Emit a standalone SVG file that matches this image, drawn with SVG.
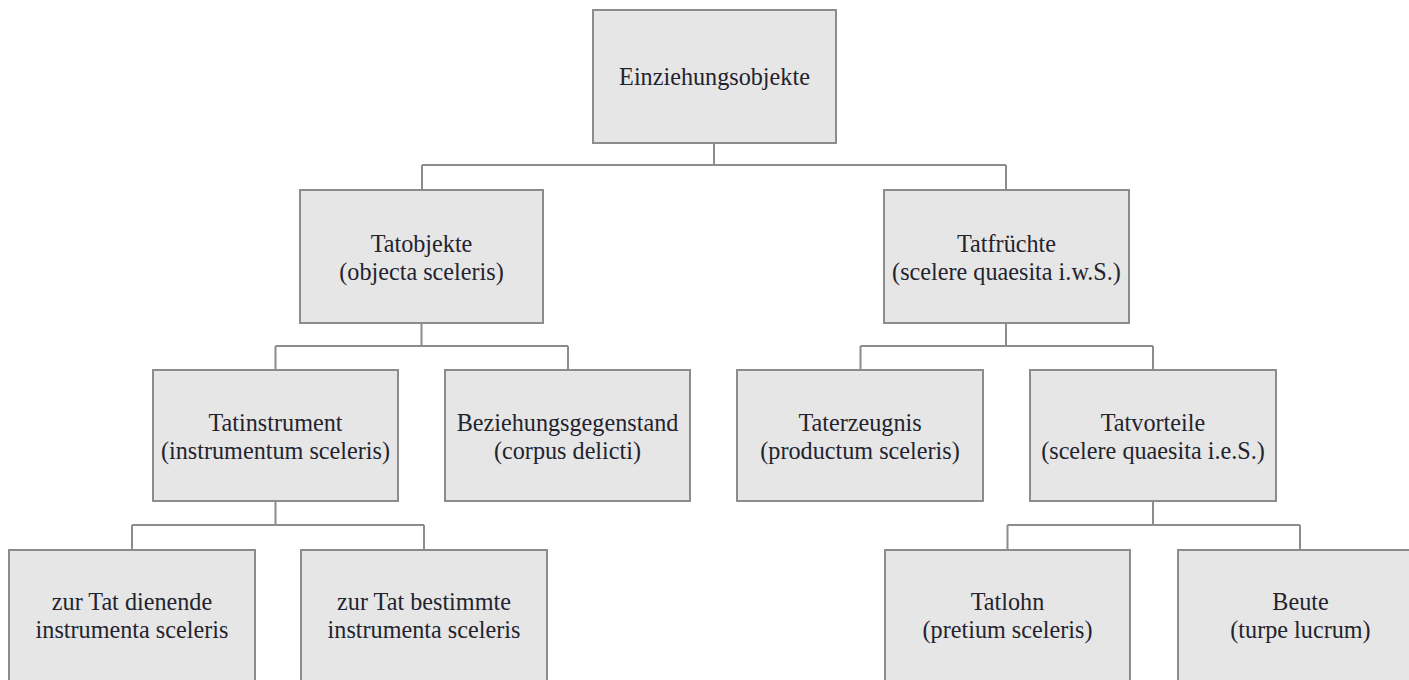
<svg xmlns="http://www.w3.org/2000/svg" width="1409" height="680" viewBox="0 0 1409 680">
<style>
.box{fill:#e6e6e6;stroke:#8c8c8c;stroke-width:2}
.lbl{font-family:'Liberation Serif','DejaVu Serif',serif;font-size:24.2px;fill:#23232e;text-anchor:middle}
.conn{fill:none;stroke:#8c8c8c;stroke-width:2}
</style>
<rect width="1409" height="680" fill="#ffffff"/>
<g id="connectors">
<path class="conn" d="M714 143V165M422 165H1006M422 165V190M1006 165V190"/>
<path class="conn" d="M421.5 323V346M275.5 346H568M275.5 346V370M568 346V370"/>
<path class="conn" d="M1006 323V346M860.5 346H1153M860.5 346V370M1153 346V370"/>
<path class="conn" d="M275.5 501V525M132 525H424M132 525V550M424 525V550"/>
<path class="conn" d="M1153 501V525M1007.5 525H1300M1007.5 525V550M1300 525V550"/>
</g>
<g id="n-einziehungsobjekte">
<rect class="box" x="593" y="10" width="243" height="133"/>
<text class="lbl" x="714.5" y="85">Einziehungsobjekte</text>
</g>
<g id="n-tatobjekte">
<rect class="box" x="300" y="190" width="243" height="133"/>
<text class="lbl" x="421.5" y="252">Tatobjekte</text>
<text class="lbl" x="421.5" y="280">(objecta sceleris)</text>
</g>
<g id="n-tatfruechte">
<rect class="box" x="884" y="190" width="245" height="133"/>
<text class="lbl" x="1006.5" y="252">Tatfrüchte</text>
<text class="lbl" x="1006.5" y="280">(scelere quaesita i.w.S.)</text>
</g>
<g id="n-tatinstrument">
<rect class="box" x="153" y="370" width="245" height="131"/>
<text class="lbl" x="275.5" y="431">Tatinstrument</text>
<text class="lbl" x="275.5" y="459">(instrumentum sceleris)</text>
</g>
<g id="n-beziehungsgegenstand">
<rect class="box" x="445" y="370" width="245" height="131"/>
<text class="lbl" x="567.5" y="431">Beziehungsgegenstand</text>
<text class="lbl" x="567.5" y="459">(corpus delicti)</text>
</g>
<g id="n-taterzeugnis">
<rect class="box" x="737" y="370" width="246" height="131"/>
<text class="lbl" x="860" y="431">Taterzeugnis</text>
<text class="lbl" x="860" y="459">(productum sceleris)</text>
</g>
<g id="n-tatvorteile">
<rect class="box" x="1030" y="370" width="246" height="131"/>
<text class="lbl" x="1153" y="431">Tatvorteile</text>
<text class="lbl" x="1153" y="459">(scelere quaesita i.e.S.)</text>
</g>
<g id="n-dienende">
<rect class="box" x="9" y="550" width="246" height="140"/>
<text class="lbl" x="132" y="610">zur Tat dienende</text>
<text class="lbl" x="132" y="638">instrumenta sceleris</text>
</g>
<g id="n-bestimmte">
<rect class="box" x="301" y="550" width="246" height="140"/>
<text class="lbl" x="424" y="610">zur Tat bestimmte</text>
<text class="lbl" x="424" y="638">instrumenta sceleris</text>
</g>
<g id="n-tatlohn">
<rect class="box" x="885" y="550" width="245" height="140"/>
<text class="lbl" x="1007.5" y="610">Tatlohn</text>
<text class="lbl" x="1007.5" y="638">(pretium sceleris)</text>
</g>
<g id="n-beute">
<rect class="box" x="1178" y="550" width="245" height="140"/>
<text class="lbl" x="1300.5" y="610">Beute</text>
<text class="lbl" x="1300.5" y="638">(turpe lucrum)</text>
</g>
</svg>
